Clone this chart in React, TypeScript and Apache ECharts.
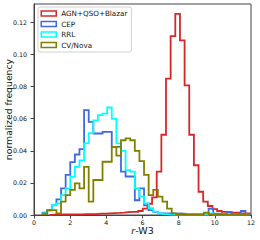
import React, { useEffect, useRef } from "react";
import * as echarts from "echarts";

// Series names and colours
const NAMES = ["AGN+QSO+Blazar", "CEP", "RRL", "CV/Nova"];
const COLORS = ["#d62728", "#4169e1", "#00ffff", "#808000"];

// Histogram bins (left edge of first bin, bin width) and bin heights (normalized frequency)
const AGN_START = 0.875;
const AGN_WIDTH = 0.257;
const AGN_HEIGHTS = [
  0.0002, 0.0002, 0.0003, 0.0003, 0.0003, 0.0004, 0.0004, 0.0005, 0.0005, 0.0006,
  0.0008, 0.0008, 0.001, 0.0012, 0.0013, 0.0015, 0.0018, 0.002, 0.002, 0.0025,
  0.004, 0.007, 0.011, 0.027, 0.05, 0.085, 0.1115, 0.1254, 0.1088, 0.0808,
  0.05, 0.031, 0.0145, 0.0083, 0.0056, 0.0036, 0.0025, 0.002, 0.002, 0.0015,
  0.0015, 0.001, 0.001,
];

const STAR_START = 0.475;
const STAR_WIDTH = 0.255;
const CEP_HEIGHTS = [
  0.0015, 0.003, 0.006, 0.0098, 0.0166, 0.025, 0.033, 0.0377, 0.041, 0.0653,
  0.058, 0.0508, 0.0508, 0.0518, 0.0518, 0.0425, 0.0425, 0.027, 0.024, 0.024,
  0.0092, 0.0166, 0.006, 0.003, 0.002, 0.001, 0.001, 0.001, 0.0008, 0.001,
  0.0008, 0.0003, 0.0003, 0.0003, 0.0003, 0.0005, 0.004, 0.0008, 0.0005, 0.0005,
  0.002, 0.0005, 0.0005, 0.0025, 0.0005,
];
const RRL_HEIGHTS = [
  0.001, 0.0026, 0.0062, 0.0073, 0.0124, 0.0166, 0.0238, 0.03, 0.034, 0.0446,
  0.051, 0.059, 0.0622, 0.0632, 0.067, 0.06, 0.0446, 0.04, 0.028, 0.027,
  0.0166, 0.0114, 0.0073, 0.0042, 0.0021, 0.001, 0.0005, 0.0002, 0.0002, 0.0002,
  0.0002, 0.0002, 0.0002, 0.0002, 0.0002, 0.0002, 0.001, 0.0002, 0.0002, 0.0002,
  0.0002, 0.0002, 0.0002, 0.0002, 0.0002,
];
const CV_HEIGHTS = [
  0.0005, 0.003, 0.003, 0.001, 0.0083, 0.0124, 0.0156, 0.0197, 0.0166, 0.03,
  0.0083, 0.0218, 0.0218, 0.0332, 0.0332, 0.0425, 0.037, 0.0466, 0.0478, 0.0466,
  0.04, 0.0336, 0.025, 0.0124, 0.0156, 0.0114, 0.0083, 0.004, 0.001, 0.0005,
  0.0003, 0.0003, 0.0003, 0.0003, 0.0003, 0.0015, 0.0003, 0.0003, 0.0003, 0.0003,
  0.0003, 0.0003, 0.0003, 0.0003, 0.0003,
];

// Axis ticks
const X_TICKS = [0, 2, 4, 6, 8, 10, 12];
const Y_TICKS = [0, 0.02, 0.04, 0.06, 0.08, 0.1, 0.12];

function stepOutline(start: number, width: number, heights: number[]): number[][] {
  const pts: number[][] = [[start, 0]];
  heights.forEach((h, i) => {
    const l = start + i * width;
    const r = l + width;
    pts.push([l, h]);
    pts.push([r, h]);
  });
  pts.push([start + heights.length * width, 0]);
  return pts;
}

export default function App() {
  const ref = useRef<HTMLDivElement>(null);
  useEffect(() => {
    if (!ref.current) return;
    const chart = echarts.init(ref.current, null, { renderer: "svg" });
    const font = "DejaVu Sans";
    const hist = [
      stepOutline(AGN_START, AGN_WIDTH, AGN_HEIGHTS),
      stepOutline(STAR_START, STAR_WIDTH, CEP_HEIGHTS),
      stepOutline(STAR_START, STAR_WIDTH, RRL_HEIGHTS),
      stepOutline(STAR_START, STAR_WIDTH, CV_HEIGHTS),
    ];
    chart.setOption({
      animation: false,
      grid: {
        left: 34,
        right: 9,
        top: 4,
        bottom: 25,
        containLabel: false,
        outerBoundsMode: "none",
        show: true,
        borderColor: "#444",
        borderWidth: 1,
        backgroundColor: "#fff",
      },
      xAxis: {
        type: "value",
        min: 0,
        max: 12,
        interval: 2,
        name: "{i|r}-W3",
        nameLocation: "middle",
        nameGap: 10,
        nameMoveOverlap: false,
        nameTextStyle: {
          fontFamily: font,
          fontSize: 9.5,
          color: "#111",
          verticalAlign: "top",
          rich: { i: { fontStyle: "italic", fontFamily: font, fontSize: 9.5, color: "#111" } },
        },
        axisLine: { show: true, lineStyle: { color: "#444", width: 1 } },
        axisTick: { show: true, length: 3.5, lineStyle: { color: "#444" }, customValues: X_TICKS },
        axisLabel: {
          customValues: X_TICKS,
          margin: 4,
          fontFamily: font,
          fontSize: 6.3,
          color: "#111",
          formatter: (v: number) => String(v),
        },
        splitLine: { show: false },
      },
      yAxis: {
        type: "value",
        min: 0,
        max: 0.1315,
        interval: 0.02,
        name: "normalized frequency",
        nameLocation: "middle",
        nameRotate: 90,
        nameGap: 21,
        nameMoveOverlap: false,
        nameTextStyle: { fontFamily: font, fontSize: 9.3, color: "#111" },
        axisLine: { show: true, lineStyle: { color: "#444", width: 1 } },
        axisTick: { show: true, length: 3.5, lineStyle: { color: "#444" }, customValues: Y_TICKS },
        axisLabel: {
          customValues: Y_TICKS,
          margin: 7,
          fontFamily: font,
          fontSize: 6.3,
          color: "#111",
          formatter: (v: number) => v.toFixed(2),
        },
        splitLine: { show: false },
      },
      legend: {
        left: 38,
        top: 7,
        orient: "vertical",
        backgroundColor: "#fff",
        borderColor: "#d0d0d0",
        borderWidth: 1,
        borderRadius: 2,
        padding: [2.5, 4, 3, 2.5],
        itemWidth: 15,
        itemHeight: 5,
        itemGap: 2.5,
        textStyle: { fontFamily: font, fontSize: 7.2, color: "#111", lineHeight: 8 },
        data: NAMES.map((n, i) => ({
          name: n,
          icon: "rect",
          itemStyle: { color: "rgba(255,255,255,0)", borderColor: COLORS[i], borderWidth: 1.5 },
        })),
      },
      series: NAMES.map((n, i) => ({
        name: n,
        type: "line",
        data: hist[i],
        showSymbol: false,
        symbol: "none",
        clip: true,
        color: COLORS[i],
        lineStyle: { color: COLORS[i], width: 1.8, join: "miter" },
        z: 2 + i,
      })),
    });
    return () => chart.dispose();
  }, []);
  return (
    <div
      ref={ref}
      style={{ position: "absolute", left: 0, top: 0, width: 260, height: 240, background: "#fff" }}
    />
  );
}
